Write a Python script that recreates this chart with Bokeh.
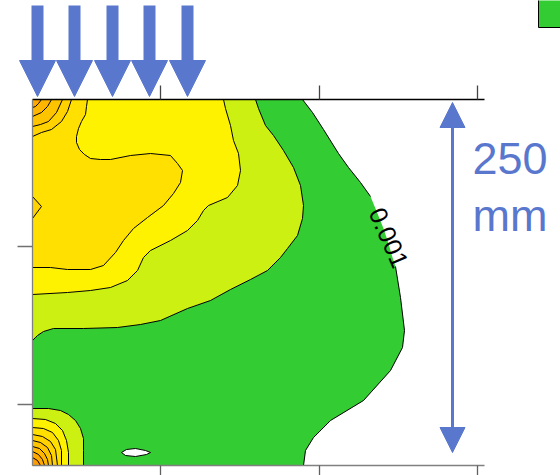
from bokeh.plotting import figure
from bokeh.models import (Range1d, FixedTicker, Arrow, NormalHead, Label,
                          BoxAnnotation, LinearAxis, CustomJSTickFormatter)
from bokeh.embed import file_html
from bokeh.resources import INLINE

# ---- plotted region and ticks (data units) ----
X_MIN, X_MAX = 0, 452
Y_MIN, Y_MAX = 0, 366
x_ticks = [128, 287, 445]
y_ticks = [61, 219]

# ---- contour levels: fill colours (low -> high) ----
level_colors = ["#33CC33", "#CCF011", "#FFF200", "#FFE000", "#FFD200",
                "#FFC400", "#FFB600", "#FFA800", "#FF9A00"]
label_text = "0.001"

# ---- contour curves (data units) ----
# 0.001 contour (green / white)
c1_x = [270, 280, 291, 306, 316, 328, 338, 345, 351, 356, 360, 363, 368, 372, 370, 358, 331, 298, 281, 273, 271]
c1_y = [366, 353, 336, 312, 298, 283, 269, 252, 237, 222, 208, 199, 168, 135, 118, 95, 65, 45, 28, 15, 0]
c1_gap = (7, 11)  # label sits between these vertices
# level 2 (yellow-green / green), upper part and lower-left corner
c2u_x = [223, 226, 233, 241, 251, 261, 268, 271, 270, 265, 255, 248, 235, 218, 198, 178, 155, 128, 108, 85, 51, 21, 11, 5, 0]
c2u_y = [366, 357, 340, 330, 315, 298, 280, 260, 247, 230, 217, 208, 195, 186, 176, 165, 157, 145, 141, 138, 137, 137, 134, 130, 125]
c2l_x = [0, 16, 28, 36, 43, 48, 51, 51, 51]
c2l_y = [57, 57, 55, 51, 45, 37, 27, 15, 0]
# level 3 (yellow)
c3u_x = [191, 193, 198, 201, 206, 208, 205, 195, 176, 171, 165, 155, 138, 118, 111, 105, 95, 78, 58, 35, 0]
c3u_y = [366, 357, 340, 325, 312, 295, 280, 268, 260, 255, 245, 235, 225, 215, 208, 195, 185, 178, 175, 173, 171]
c3l_x = [0, 13, 23, 30, 34, 36, 36]
c3l_y = [47, 46, 42, 35, 25, 13, 0]
# level 4 (gold)
c4u_x = [55, 54, 53, 49, 46, 44, 44, 47, 52, 58, 68, 78, 98, 118, 138, 145, 150, 148, 141, 131, 115, 101, 91, 83, 71, 58, 35, 18, 0]
c4u_y = [366, 359, 351, 344, 337, 329, 323, 316, 311, 307, 306, 306, 310, 312, 310, 302, 295, 283, 272, 260, 248, 237, 225, 213, 200, 196, 196, 198, 198]
c4l_x = [0, 11, 20, 26, 29, 29]
c4l_y = [38, 37, 33, 25, 15, 0]
# level 5
c5u_x = [39, 35, 29, 19, 9, 0]
c5u_y = [366, 354, 344, 336, 333, 329]
c5b_x = [0, 9, 0]
c5b_y = [269, 259, 247]
c5l_x = [0, 10, 18, 23, 25]
c5l_y = [31, 29, 24, 16, 0]
# level 6
c6u_x = [30, 24, 16, 8, 0]
c6u_y = [366, 353, 344, 341, 339]
c6l_x = [0, 8, 15, 19, 20]
c6l_y = [25, 23, 18, 10, 0]
# level 7
c7u_x = [19, 15, 9, 0]
c7u_y = [366, 359, 353, 349]
c7l_x = [0, 7, 12, 15, 16]
c7l_y = [19, 17, 12, 6, 0]
# level 8
c8u_x = [9, 6, 3, 0]
c8u_y = [366, 362, 359, 358]
c8l_x = [0, 6, 10, 12]
c8l_y = [14, 11, 6, 0]
# level 9
c9l_x = [0, 5, 8]
c9l_y = [8, 5, 0]
# small hole below 0.001
hole_x = [89, 94, 103, 113, 118, 114, 103, 93]
hole_y = [13, 16, 17, 15, 13, 11, 9, 10]

BLUE = "#5A77CE"
arrow_x = [5, 42, 80, 117, 155]

# the figure's frame spans the whole canvas so that annotations in the margins are drawn
p = figure(width=560, height=475, x_range=Range1d(-32, 528), y_range=Range1d(-10, 465),
           output_backend="svg", toolbar_location=None,
           x_axis_location=None, y_axis_location=None,
           min_border_left=0, min_border_right=0, min_border_top=0, min_border_bottom=0)
p.xgrid.visible = False
p.ygrid.visible = False
p.outline_line_color = None
p.background_fill_color = "white"
p.border_fill_color = "white"

TL = (X_MIN, Y_MAX)
BL = (X_MIN, Y_MIN)

def poly(xs, ys, corners):
    return list(xs) + [c[0] for c in corners], list(ys) + [c[1] for c in corners]

fills = []  # (xs, ys, color)
fills.append(poly(c1_x, c1_y, [BL, TL]) + (level_colors[0],))
fills.append((hole_x, hole_y, "white"))
fills.append(poly(c2u_x, c2u_y, [TL]) + (level_colors[1],))
fills.append(poly(c2l_x, c2l_y, [BL]) + (level_colors[1],))
fills.append(poly(c3u_x, c3u_y, [TL]) + (level_colors[2],))
fills.append(poly(c3l_x, c3l_y, [BL]) + (level_colors[2],))
fills.append(poly(c4u_x, c4u_y, [TL]) + (level_colors[3],))
fills.append(poly(c4l_x, c4l_y, [BL]) + (level_colors[3],))
fills.append(poly(c5u_x, c5u_y, [TL]) + (level_colors[4],))
fills.append((c5b_x, c5b_y, level_colors[4]))
fills.append(poly(c5l_x, c5l_y, [BL]) + (level_colors[4],))
fills.append(poly(c6u_x, c6u_y, [TL]) + (level_colors[5],))
fills.append(poly(c6l_x, c6l_y, [BL]) + (level_colors[5],))
fills.append(poly(c7u_x, c7u_y, [TL]) + (level_colors[6],))
fills.append(poly(c7l_x, c7l_y, [BL]) + (level_colors[6],))
fills.append(poly(c8u_x, c8u_y, [TL]) + (level_colors[7],))
fills.append(poly(c8l_x, c8l_y, [BL]) + (level_colors[7],))
fills.append(poly(c9l_x, c9l_y, [BL]) + (level_colors[8],))

p.patches(xs=[f[0] for f in fills], ys=[f[1] for f in fills],
          fill_color=[f[2] for f in fills], line_color=None)

g0, g1 = c1_gap
lines = [(c1_x[:g0], c1_y[:g0]), (c1_x[g1:], c1_y[g1:]),
         (hole_x + hole_x[:1], hole_y + hole_y[:1]),
         (c2u_x, c2u_y), (c2l_x, c2l_y), (c3u_x, c3u_y), (c3l_x, c3l_y),
         (c4u_x, c4u_y), (c4l_x, c4l_y), (c5u_x, c5u_y), (c5b_x, c5b_y), (c5l_x, c5l_y),
         (c6u_x, c6u_y), (c6l_x, c6l_y), (c7u_x, c7u_y), (c7l_x, c7l_y),
         (c8u_x, c8u_y), (c8l_x, c8l_y), (c9l_x, c9l_y)]
p.multi_line(xs=[l[0] for l in lines], ys=[l[1] for l in lines], line_color="black", line_width=1)

# contour label
lx = (c1_x[g0] + c1_x[g1 - 1]) / 2 + 4
ly = (c1_y[g0] + c1_y[g1 - 1]) / 2 - 2
p.add_layout(Label(x=lx, y=ly, text=label_text, angle=-1.16, text_align="center",
                   text_baseline="middle", text_font="Liberation Sans",
                   text_font_size="25px", text_color="black"))

# axes, placed on the edges of the plotted region
blank = CustomJSTickFormatter(code="return ''")
def style(ax, tick_out, line_color, tick_color):
    ax.formatter = blank
    ax.major_label_text_font_size = "0px"
    ax.major_label_standoff = 0
    ax.major_tick_in = 0
    ax.major_tick_out = tick_out
    ax.minor_tick_line_color = None
    ax.axis_line_color = line_color
    ax.axis_line_width = 1.3
    ax.major_tick_line_color = tick_color
    ax.major_tick_line_width = 1.3

ax_left = LinearAxis(ticker=FixedTicker(ticks=y_ticks), fixed_location=X_MIN, bounds=(Y_MIN, Y_MAX))
style(ax_left, 15, "#808080", "#707070")
p.add_layout(ax_left, "left")
ax_top = LinearAxis(ticker=FixedTicker(ticks=x_ticks), fixed_location=Y_MAX, bounds=(X_MIN, X_MAX))
style(ax_top, 14, "black", "#444444")
p.add_layout(ax_top, "above")
ax_bot = LinearAxis(ticker=FixedTicker(ticks=x_ticks), fixed_location=Y_MIN, bounds=(X_MIN, X_MAX))
style(ax_bot, 10, "#808080", "#606060")
p.add_layout(ax_bot, "below")

# load arrows
for ax_ in arrow_x:
    p.add_layout(Arrow(x_start=ax_, y_start=460, x_end=ax_, y_end=369,
                       end=NormalHead(size=36, fill_color=BLUE, line_color=BLUE, line_width=1),
                       line_color=BLUE, line_width=12))

# 250 mm dimension arrow
p.add_layout(Arrow(x_start=420, y_start=13, x_end=420, y_end=363,
                   start=NormalHead(size=25, fill_color=BLUE, line_color=BLUE, line_width=1),
                   end=NormalHead(size=25, fill_color=BLUE, line_color=BLUE, line_width=1),
                   line_color=BLUE, line_width=3))
p.add_layout(Label(x=440, y=307, text="250", text_font="Liberation Sans",
                   text_font_size="45px", text_color=BLUE, text_baseline="alphabetic"))
p.add_layout(Label(x=440, y=250, text="mm", text_font="Liberation Sans",
                   text_font_size="45px", text_color=BLUE, text_baseline="alphabetic"))

# legend swatch (cut off at the corner)
p.add_layout(BoxAnnotation(left=506, right=540, bottom=438, top=475,
                           fill_color=level_colors[0], fill_alpha=1,
                           line_color="black", line_width=1, line_alpha=1))

open("out.html", "w").write(file_html(p, INLINE))
